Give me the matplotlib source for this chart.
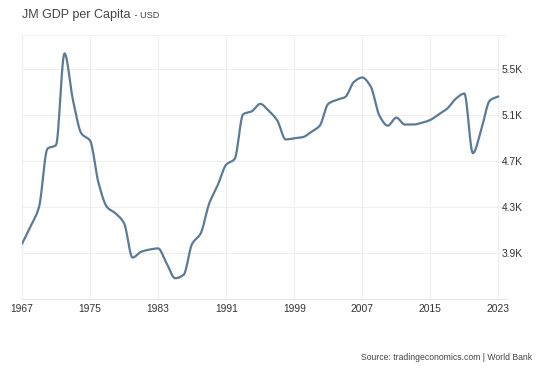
import numpy as np
import matplotlib
matplotlib.use("Agg")
import matplotlib.pyplot as plt

plt.rcParams['font.family'] = ['Liberation Sans', 'DejaVu Sans']

# GDP per capita (thousand USD)
years = list(range(1967, 2024))
gdp = [3.98, 4.13, 4.30, 4.81, 4.84, 5.64, 5.23, 4.94, 4.88, 4.51,
       4.30, 4.245, 4.16, 3.86, 3.91, 3.93, 3.94, 3.81, 3.68, 3.71,
       3.98, 4.07, 4.33, 4.49, 4.67, 4.72, 5.11, 5.135, 5.20, 5.14,
       5.056, 4.89, 4.90, 4.91, 4.955, 5.01, 5.20, 5.235, 5.26, 5.39,
       5.43, 5.35, 5.10, 5.01, 5.08, 5.02, 5.02, 5.035, 5.06, 5.11,
       5.16, 5.245, 5.29, 4.77, 4.98, 5.23, 5.265]

xticks = [1967, 1975, 1983, 1991, 1999, 2007, 2015, 2023]
yticks = [3.9, 4.3, 4.7, 5.1, 5.5]
ytick_labels = ['3.9K', '4.3K', '4.7K', '5.1K', '5.5K']


# smooth line through the points (monotone hermite spline, drawing only)
def smooth(x, y, n=12):
    x = np.asarray(x, float)
    y = np.asarray(y, float)
    d = np.diff(y) / np.diff(x)
    m = np.zeros_like(y)
    m[0], m[-1] = d[0], d[-1]
    for i in range(1, len(y) - 1):
        if d[i - 1] * d[i] > 0:
            m[i] = 2 / (1 / d[i - 1] + 1 / d[i])
    xs, ys = [], []
    for i in range(len(x) - 1):
        h = x[i + 1] - x[i]
        t = np.linspace(0, 1, n, endpoint=False)
        h00 = 2 * t**3 - 3 * t**2 + 1
        h10 = t**3 - 2 * t**2 + t
        h01 = -2 * t**3 + 3 * t**2
        h11 = t**3 - t**2
        xs.append(x[i] + t * h)
        ys.append(h00 * y[i] + h10 * h * m[i] + h01 * y[i + 1] + h11 * h * m[i + 1])
    xs.append([x[-1]])
    ys.append([y[-1]])
    return np.concatenate(xs), np.concatenate(ys)


fig = plt.figure(figsize=(5.4, 3.69), dpi=100)
ax = fig.add_axes([0.0407, 0.19, 0.898, 0.715])

sx, sy = smooth(years, gdp)
ax.plot(sx, sy, color='#5a7b97', linewidth=1.6, solid_capstyle='round', zorder=3)

ax.set_xlim(1967, 2024)
ax.set_ylim(3.5, 5.8)
ax.set_xticks(xticks)
ax.set_xticklabels([str(x) for x in xticks])
ax.set_yticks(yticks)
ax.set_yticklabels(ytick_labels)
ax.yaxis.tick_right()

ax.grid(True, color='#efefef', linewidth=0.8, zorder=0)
for s in ['left', 'right', 'top']:
    ax.spines[s].set_visible(False)
ax.spines['bottom'].set_color('#e6e6e6')
ax.axhline(5.8, color='#f2f2f2', linewidth=0.8, zorder=0)

ax.tick_params(axis='x', length=0, pad=4, labelsize=7.4, labelcolor='#333333')
ax.tick_params(axis='y', length=0, pad=-3.6, labelsize=7.4, labelcolor='#333333')
for lab in ax.get_yticklabels():
    lab.set_horizontalalignment('left')

fig.text(22 / 540, 1 - 15 / 369, 'JM GDP per Capita', fontsize=9, color='#444444',
         ha='left', va='center')
fig.text(132 / 540, 1 - 15.5 / 369, ' - USD', fontsize=6.6, color='#444444',
         ha='left', va='center')
fig.text(532 / 540, 1 - 357 / 369, 'Source: tradingeconomics.com | World Bank',
         fontsize=6.2, color='#444444', ha='right', va='center')

fig.savefig('out.png', dpi=100)
